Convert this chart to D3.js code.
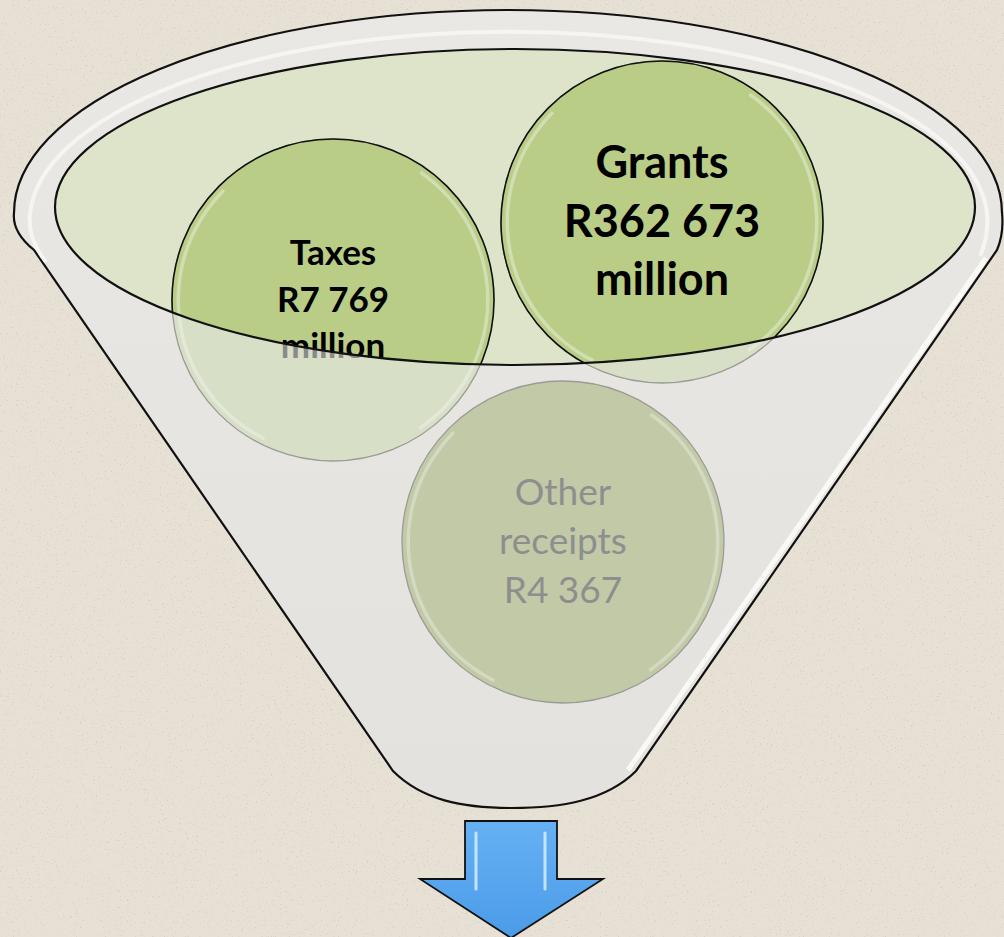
<!DOCTYPE html>
<html>
<head>
<meta charset="utf-8">
<script src="https://cdn.jsdelivr.net/npm/d3@7"></script>
<style>
  html, body { margin: 0; padding: 0; background: #e7e0d4; }
  svg { display: block; }
</style>
</head>
<body>
<svg id="chart" width="1004" height="937"></svg>
<script>
// receipts, R million
const categories = ['Taxes', 'Grants', 'Other receipts'];
const amounts = [7769, 362673, 4367];
const units = ['million', 'million', ''];
// which items sit in the mouth of the funnel (bright) and which lower down
const inMouth = [true, true, false];

const W = 1004;
const H = 937;

const rand = d3.formatLocale({ decimal: '.', thousands: ' ', grouping: [3], currency: ['R', ''] }).format('$,');

/**
 * Funnel picture, drawn once
 */
class FunnelChart {
  constructor() {
    this.arc = d3.arc();
  }

  create = (element) => {
    const svg = d3.select(element);
    const defs = svg.append('defs');

    // paper texture
    const grain = defs.append('filter').attr('id', 'grain')
      .attr('x', 0).attr('y', 0).attr('width', '100%').attr('height', '100%');
    grain.append('feTurbulence').attr('type', 'fractalNoise')
      .attr('baseFrequency', 0.55).attr('numOctaves', 2).attr('seed', 7);
    grain.append('feColorMatrix').attr('type', 'matrix')
      .attr('values', '0 0 0 0 0.45  0 0 0 0 0.41  0 0 0 0 0.35  8 0 0 0 -5.2');

    const blue = defs.append('linearGradient').attr('id', 'blue')
      .attr('x1', 0).attr('y1', 0).attr('x2', 0).attr('y2', 1);
    blue.append('stop').attr('offset', 0).attr('stop-color', '#66b1f4');
    blue.append('stop').attr('offset', 1).attr('stop-color', '#4b9be8');

    const rim = defs.append('linearGradient').attr('id', 'rim')
      .attr('x1', 0).attr('y1', 0).attr('x2', 0).attr('y2', 1);
    rim.append('stop').attr('offset', 0).attr('stop-color', '#eae8e4');
    rim.append('stop').attr('offset', 1).attr('stop-color', '#e4e2de');

    svg.append('rect').attr('width', W).attr('height', H).attr('fill', '#e7e0d4');
    svg.append('rect').attr('width', W).attr('height', H).attr('filter', 'url(#grain)').attr('opacity', 0.3);

    // mouth ellipse, also used as clip for the bright part of the circles
    const mouth = { cx: 515, cy: 207, rx: 460, ry: 158 };
    defs.append('clipPath').attr('id', 'mouth')
      .append('ellipse')
      .attr('cx', mouth.cx).attr('cy', mouth.cy).attr('rx', mouth.rx).attr('ry', mouth.ry);

    // funnel body
    const body = d3.path();
    body.moveTo(34, 250);
    body.quadraticCurveTo(12, 232, 14, 213);
    const funnelPath = body.toString()
      + 'A494 203 0 0 1 1002 213'
      + 'Q1004 234 997 250'
      + 'L636 771'
      + 'C606 801 560 808 512 808'
      + 'C462 808 422 800 393 771Z';

    svg.append('path').attr('d', funnelPath)
      .attr('fill', 'url(#rim)')
      .attr('stroke', '#111').attr('stroke-width', 2.2);

    // glossy highlight on the rim and right side
    svg.append('path')
      .attr('d', 'M46 262Q27 238 30 213A479 190 0 0 1 987 213Q989 236 980 256')
      .attr('fill', 'none').attr('stroke', '#fbfaf7').attr('stroke-width', 4).attr('opacity', 0.75);
    svg.append('path')
      .attr('d', 'M986 258L628 770')
      .attr('fill', 'none').attr('stroke', '#fbfaf7').attr('stroke-width', 5).attr('opacity', 0.95);

    svg.append('ellipse')
      .attr('cx', mouth.cx).attr('cy', mouth.cy).attr('rx', mouth.rx).attr('ry', mouth.ry)
      .attr('fill', '#dde4ca');

    // circles
    const items = categories.map((c, i) => ({
      name: c,
      amount: amounts[i],
      unit: units[i],
      mouth: inMouth[i],
      lines: [...c.split(' '), rand(amounts[i]), units[i]].filter(s => s !== ''),
    }));

    const pos = d3.scaleOrdinal().domain(categories)
      .range([[333, 300], [662, 222], [563, 542]]);
    const r = 161;
    const fontSize = d3.scaleOrdinal().domain(categories).range([35, 45, 37]);
    const lineGap = d3.scaleOrdinal().domain(categories).range([46.5, 58.5, 49]);
    const firstBase = d3.scaleOrdinal().domain(categories).range([265, 178, 505]);

    this.arc.innerRadius(r - 8).outerRadius(r - 4.5);

    const drawLabel = (g, d, colour) => {
      const t = g.append('text')
        .attr('text-anchor', 'middle')
        .attr('font-family', 'Lato, "Open Sans", sans-serif')
        .attr('font-weight', d.mouth ? 700 : 400)
        .attr('font-size', fontSize(d.name))
        .attr('fill', colour);
      d.lines.forEach((s, k) => {
        t.append('tspan').attr('x', pos(d.name)[0])
          .attr('y', firstBase(d.name) + k * lineGap(d.name)).text(s);
      });
    };

    const drawGloss = (g, d, opacity) => {
      const [x, y] = pos(d.name);
      [[3.6, 5.5], [0.6, 2.55]].forEach(([a0, a1]) => {
        g.append('path')
          .attr('transform', `translate(${x},${y})`)
          .attr('d', this.arc({ startAngle: a0, endAngle: a1 }))
          .attr('fill', '#ffffff').attr('opacity', opacity);
      });
    };

    // pale layer (under the front of the funnel)
    const pale = svg.append('g');
    items.forEach(d => {
      const [x, y] = pos(d.name);
      pale.append('circle').attr('cx', x).attr('cy', y).attr('r', r)
        .attr('fill', d.mouth ? '#d8dfc7' : '#c2c9a7')
        .attr('stroke', '#999b94').attr('stroke-width', 1.3);
      drawGloss(pale, d, 0.3);
      drawLabel(pale, d, d.mouth ? '#8a8a8a' : '#8e8e8e');
    });

    // bright layer inside the mouth
    const bright = svg.append('g').attr('clip-path', 'url(#mouth)');
    items.filter(d => d.mouth).forEach(d => {
      const [x, y] = pos(d.name);
      bright.append('circle').attr('cx', x).attr('cy', y).attr('r', r)
        .attr('fill', '#b9cd87')
        .attr('stroke', '#111').attr('stroke-width', 1.6);
      drawGloss(bright, d, 0.35);
      drawLabel(bright, d, '#000');
    });

    svg.append('ellipse')
      .attr('cx', mouth.cx).attr('cy', mouth.cy).attr('rx', mouth.rx).attr('ry', mouth.ry)
      .attr('fill', 'none').attr('stroke', '#111').attr('stroke-width', 2.2);

    // down arrow
    const arrow = d3.path();
    arrow.moveTo(465, 821);
    arrow.lineTo(557, 821);
    arrow.lineTo(557, 879);
    arrow.lineTo(603, 879);
    arrow.lineTo(511, 938);
    arrow.lineTo(420, 879);
    arrow.lineTo(465, 879);
    arrow.closePath();
    svg.append('path').attr('d', arrow.toString())
      .attr('fill', 'url(#blue)').attr('stroke', '#111').attr('stroke-width', 1.8)
      .attr('stroke-linejoin', 'miter');
    [[476, 833, 889], [545, 833, 889]].forEach(([x, y0, y1]) => {
      svg.append('line').attr('x1', x).attr('x2', x).attr('y1', y0).attr('y2', y1)
        .attr('stroke', '#d8efff').attr('stroke-width', 3).attr('stroke-linecap', 'round')
        .attr('opacity', 0.85);
    });
  }
}

new FunnelChart().create('#chart');
</script>
</body>
</html>
